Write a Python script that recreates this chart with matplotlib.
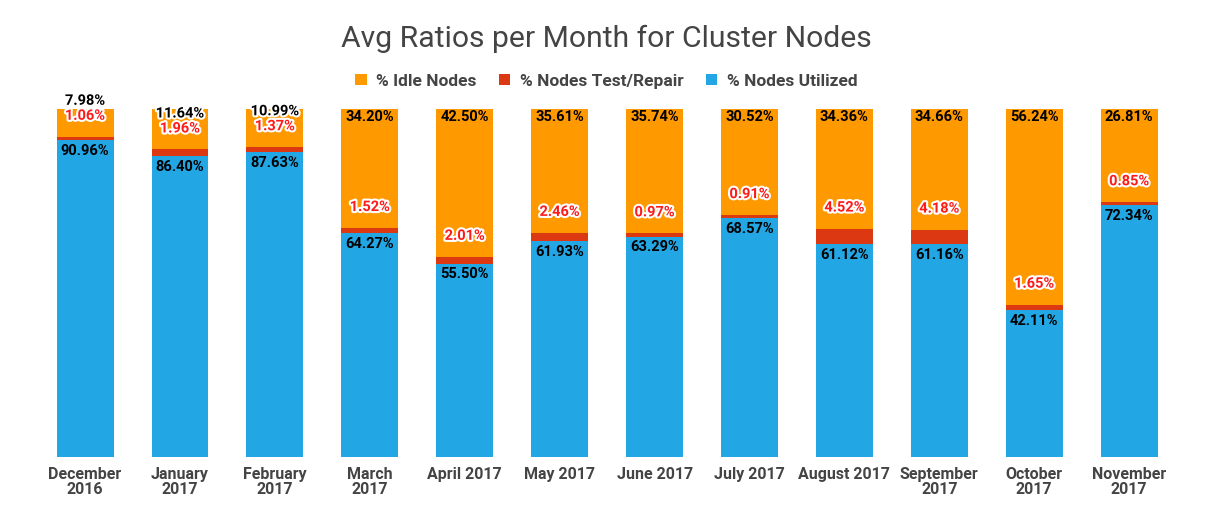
import matplotlib
matplotlib.use("Agg")
import matplotlib.pyplot as plt
import matplotlib.patheffects as pe
import numpy as np

plt.rcParams['font.family'] = ['Roboto', 'DejaVu Sans']

months = ["December\n2016", "January\n2017", "February\n2017", "March\n2017",
          "April 2017", "May 2017", "June 2017", "July 2017", "August 2017",
          "September\n2017", "October\n2017", "November\n2017"]
utilized = [90.96, 86.40, 87.63, 64.27, 55.50, 61.93, 63.29, 68.57, 61.12, 61.16, 42.11, 72.34]
repair = [1.06, 1.96, 1.37, 1.52, 2.01, 2.46, 0.97, 0.91, 4.52, 4.18, 1.65, 0.85]
idle = [7.98, 11.64, 10.99, 34.20, 42.50, 35.61, 35.74, 30.52, 34.36, 34.66, 56.24, 26.81]

c_idle = "#FF9900"
c_rep = "#DC3912"
c_util = "#22A6E4"

fig = plt.figure(figsize=(12.13, 5.24), dpi=100)
ax = fig.add_axes([0.031, 0.128, 0.939, 0.664])
x = np.arange(len(months))
u = np.array(utilized); r = np.array(repair); i_ = np.array(idle)
w = 0.6
ax.bar(x, u, w, color=c_util, label="% Nodes Utilized")
ax.bar(x, r, w, bottom=u, color=c_rep, label="% Nodes Test/Repair")
ax.bar(x, i_, w, bottom=u + r, color=c_idle, label="% Idle Nodes")
ax.set_xlim(-0.5, len(months) - 0.5)
ax.set_ylim(0, 100)
for s in ax.spines.values():
    s.set_visible(False)
ax.set_yticks([])
ax.set_xticks(x)
ax.set_xticklabels(months, fontsize=11.5, fontweight='bold', color='#444444', linespacing=1.05)
ax.tick_params(axis='x', length=0, pad=7)

halo = [pe.withStroke(linewidth=3, foreground='white')]
px_per_unit = 348 / 100.0
for k in range(len(months)):
    # utilized label just below top of blue
    ax.text(x[k], u[k] - 1.0, f"{u[k]:.2f}%", ha='center', va='top',
            fontsize=10.5, fontweight='bold', color='black')
    # repair label above red segment
    ry = u[k] + r[k] + 21 / px_per_unit
    ax.text(x[k], ry, f"{r[k]:.2f}%", ha='center', va='center',
            fontsize=10.5, fontweight='bold', color='#FF1A1A', path_effects=halo)
    # idle label near top, pushed up to avoid collision
    oy = 100 - 8 / px_per_unit
    moved = False
    if ry + 15 / px_per_unit > oy:
        oy = ry + 15 / px_per_unit
        moved = True
    ax.text(x[k], oy, f"{i_[k]:.2f}%", ha='center', va='center',
            fontsize=10.5, fontweight='bold', color='black',
            path_effects=halo if moved else None, clip_on=False)

fig.text(0.5, 0.925, "Avg Ratios per Month for Cluster Nodes", ha='center', va='center',
         fontsize=21.7, color='#444444')
h, l = ax.get_legend_handles_labels()
leg = fig.legend(h[::-1], l[::-1], loc='center', bbox_to_anchor=(0.5, 0.845), ncol=3,
                 frameon=False, prop={'weight': 'bold', 'size': 12.5},
                 handlelength=0.65, handleheight=0.65, handletextpad=0.55, columnspacing=1.3)
for t in leg.get_texts():
    t.set_color('#444444')

fig.savefig("out.png", dpi=100, facecolor='white')
